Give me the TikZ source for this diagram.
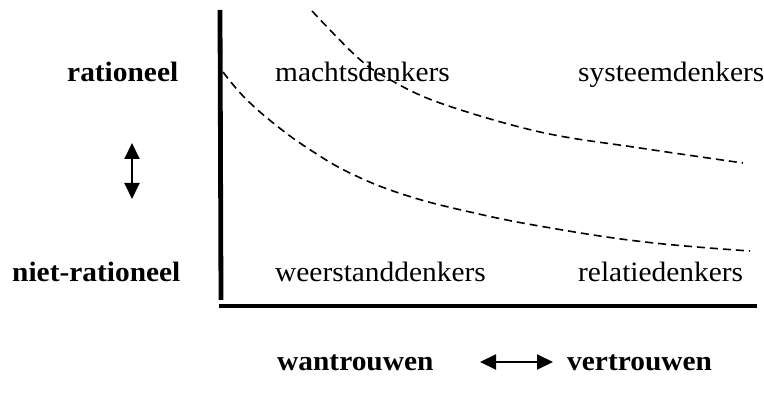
\documentclass[tikz,border=0pt]{standalone}
\usepackage{fontspec}
\setmainfont{Liberation Serif}[FakeStretch=1.05]
\usepackage{xcolor}
\usepackage{tikz}
\usetikzlibrary{arrows.meta}
\definecolor{ink}{HTML}{000000}

\begin{document}
\begin{tikzpicture}[x=1pt,y=-1pt,
  lbl/.style={inner sep=0pt,anchor=base west,font=\fontsize{28}{33}\selectfont},
  dimlbl/.style={lbl,font=\fontsize{28}{33}\selectfont\bfseries},
  axis/.style={ink,line width=4.8pt},
  border/.style={ink,dash pattern=on 8pt off 5pt,line width=1.6pt},
  twoway/.style={ink,line width=2pt,{Triangle[length=16pt,width=15pt]}-{Triangle[length=16pt,width=15pt]}}]
  \useasboundingbox (0,0) rectangle (764,403);
  % axes
  \draw[axis] (220,10) -- (221,300);
  \draw[axis] (219,306) -- (757,306);
  % boundaries between the four groups
  \draw[border] plot[smooth,tension=0.6] coordinates {(312,11) (357,57) (387,78) (440,103) (540,132) (640,148) (743,163)};
  \draw[border] plot[smooth,tension=0.7] coordinates {(223,72) (245,98) (277,126) (312,151) (352,174) (405,195) (470,212) (545,227) (645,242) (750,251)};
  % labels
  \node[dimlbl] (rat) at (67,82) {rationeel};
  \node[dimlbl] (nrat) at (12,282) {niet-rationeel};
  \node[lbl] (macht) at (275,82) {machtsdenkers};
  \node[lbl] (systeem) at (578,82) {systeemdenkers};
  \node[lbl] (weerstand) at (275,282) {weerstanddenkers};
  \node[lbl] (relatie) at (578,282) {relatiedenkers};
  \node[dimlbl] (wantr) at (277,371) {wantrouwen};
  \node[dimlbl] (vertr) at (567,371) {vertrouwen};
  % arrows
  \coordinate (vtop) at (132,143);
  \coordinate (vbot) at (132,199);
  \draw[twoway] (vtop) -- (vbot);
  \coordinate (hleft) at (480,362);
  \coordinate (hright) at (553,362);
  \draw[twoway] (hleft) -- (hright);
\end{tikzpicture}
\end{document}
